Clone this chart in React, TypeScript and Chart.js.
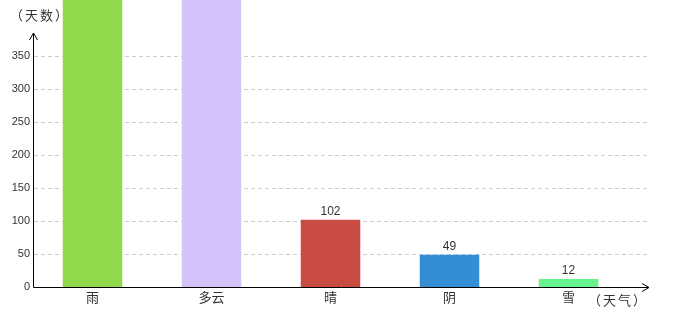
import React, { useEffect, useRef } from "react";
import { Chart, registerables } from "chart.js";

Chart.register(...registerables);

const categories = ["雨", "多云", "晴", "阴", "雪"];
const days = [520, 480, 102, 49, 12];
const barColors = ["#8fd94a", "#d6c2fa", "#c94c43", "#358dd3", "#66f28c"];
const yTicks = [0, 50, 100, 150, 200, 250, 300, 350];
const yTitle = "（天数）";
const xTitle = "（天气）";

const NUM_FONT = '"Liberation Sans", Arial, sans-serif';
const CJK_FONT = '"Noto Sans CJK SC", "Noto Sans", sans-serif';

const decorPlugin = {
  id: "decor",
  beforeDatasetsDraw(chart: any) {
    const { ctx, chartArea } = chart;
    const y = chart.scales.y;
    ctx.save();
    ctx.strokeStyle = "#cccccc";
    ctx.lineWidth = 1;
    ctx.setLineDash([4, 3]);
    yTicks.forEach((v) => {
      if (v === 0) return;
      const py = Math.round(y.getPixelForValue(v)) + 0.5;
      ctx.beginPath();
      ctx.moveTo(chartArea.left + 1, py);
      ctx.lineTo(chartArea.right + 19, py);
      ctx.stroke();
    });
    ctx.restore();
  },
  afterDatasetsDraw(chart: any) {
    const { ctx, chartArea } = chart;
    const y = chart.scales.y;
    const meta = chart.getDatasetMeta(0);
    ctx.save();
    // value labels
    ctx.fillStyle = "#333";
    ctx.font = "12px " + NUM_FONT;
    ctx.textAlign = "center";
    ctx.textBaseline = "alphabetic";
    meta.data.forEach((el: any, i: number) => {
      ctx.fillText(String(days[i]), el.x, el.y - 5);
    });
    // axes
    const x0 = Math.round(chartArea.left) + 0.5;
    const y0 = Math.round(y.getPixelForValue(0)) + 0.5;
    const xEnd = chartArea.right + 21;
    const yTop = chartArea.top;
    ctx.strokeStyle = "#000";
    ctx.lineWidth = 1;
    ctx.beginPath();
    ctx.moveTo(x0, y0);
    ctx.lineTo(xEnd, y0);
    ctx.moveTo(x0, y0);
    ctx.lineTo(x0, yTop);
    ctx.stroke();
    // arrows
    ctx.beginPath();
    ctx.moveTo(xEnd - 7, y0 - 4);
    ctx.lineTo(xEnd, y0);
    ctx.lineTo(xEnd - 7, y0 + 4);
    ctx.moveTo(x0 - 4, yTop + 7);
    ctx.lineTo(x0, yTop);
    ctx.lineTo(x0 + 4, yTop + 7);
    ctx.stroke();
    // titles
    ctx.fillStyle = "#333";
    ctx.font = "13px " + CJK_FONT;
    (ctx as any).letterSpacing = "2px";
    ctx.textAlign = "center";
    ctx.textBaseline = "middle";
    ctx.fillText(yTitle, 40, 15);
    ctx.fillText(xTitle, 618, 300);
    ctx.restore();
  },
};

export default function App() {
  const ref = useRef<HTMLCanvasElement | null>(null);
  useEffect(() => {
    if (!ref.current) return;
    const chart = new Chart(ref.current, {
      type: "bar",
      data: {
        labels: categories,
        datasets: [
          {
            data: days,
            backgroundColor: barColors,
            borderWidth: 0,
            categoryPercentage: 1,
            barPercentage: 0.5,
            clip: false as any,
          },
        ],
      },
      options: {
        animation: false,
        responsive: false,
        devicePixelRatio: 1,
        layout: { padding: { left: 0, right: 52, top: 33, bottom: 0 } },
        plugins: { legend: { display: false }, tooltip: { enabled: false } },
        scales: {
          x: {
            grid: { display: false, drawTicks: false },
            border: { display: false },
            ticks: {
              color: "#333",
              font: { family: CJK_FONT, size: 13 },
              padding: 2,
              maxRotation: 0,
            },
            afterFit: (s: any) => {
              s.height = 33;
            },
          },
          y: {
            min: 0,
            max: 385,
            grid: { display: false, drawTicks: false },
            border: { display: false },
            ticks: {
              stepSize: 50,
              color: "#333",
              font: { family: NUM_FONT, size: 11 },
              padding: 3,
            },
            afterBuildTicks: (s: any) => {
              s.ticks = yTicks.map((v) => ({ value: v }));
            },
            afterFit: (s: any) => {
              s.width = 33;
            },
          },
        },
      },
      plugins: [decorPlugin],
    });
    return () => chart.destroy();
  }, []);
  return (
    <div style={{ position: "fixed", left: 0, top: 0, width: 680, height: 320, background: "#fff" }}>
      <canvas ref={ref} width={680} height={320} style={{ width: 680, height: 320 }} />
    </div>
  );
}
